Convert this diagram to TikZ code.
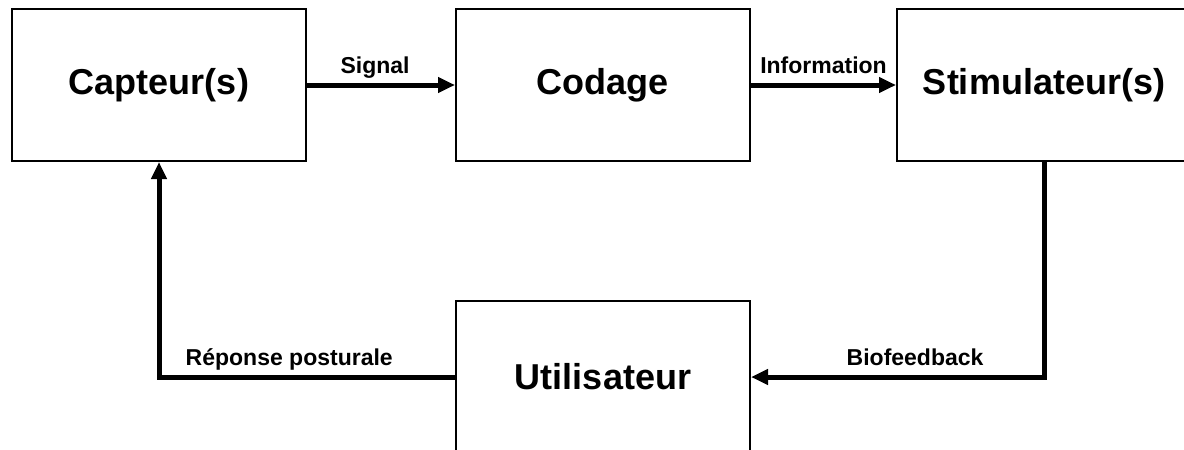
\documentclass[tikz,border=0pt]{standalone}
\usepackage{fontspec}
\setmainfont{Liberation Sans}
\usetikzlibrary{arrows.meta}

\begin{document}
\begin{tikzpicture}[x=1pt, y=-1pt,
    bloc/.style={draw, line width=2pt, minimum width=294pt, minimum height=152pt,
      font=\fontsize{36}{43}\selectfont\bfseries},
    fleche/.style={line width=5pt, -{Triangle[length=17pt, width=15pt]}},
    etiquette/.style={anchor=base, inner sep=0pt, yshift=12pt, font=\fontsize{23}{28}\selectfont\bfseries}]
    \path[use as bounding box, clip] (0,0) rectangle (1184,450);
    \node[bloc] (capteur) at (159,85) {Capteur(s)};
    \node[bloc] (codage) at (603,85) {Codage};
    \node[bloc] (stim) at (1044,85) {Stimulateur(s)};
    \node[bloc] (util) at (603,377) {Utilisateur};
    \draw[fleche] (capteur) -- node[etiquette, pos=.46] {Signal} (codage);
    \draw[fleche] (codage) -- node[etiquette] {Information} (stim);
    \draw[fleche] (stim) |- node[etiquette, pos=.72] {Biofeedback} (util);
    \draw[fleche] (util) -| node[etiquette, pos=.28] {Réponse posturale} (capteur);
  \end{tikzpicture}
\end{document}
